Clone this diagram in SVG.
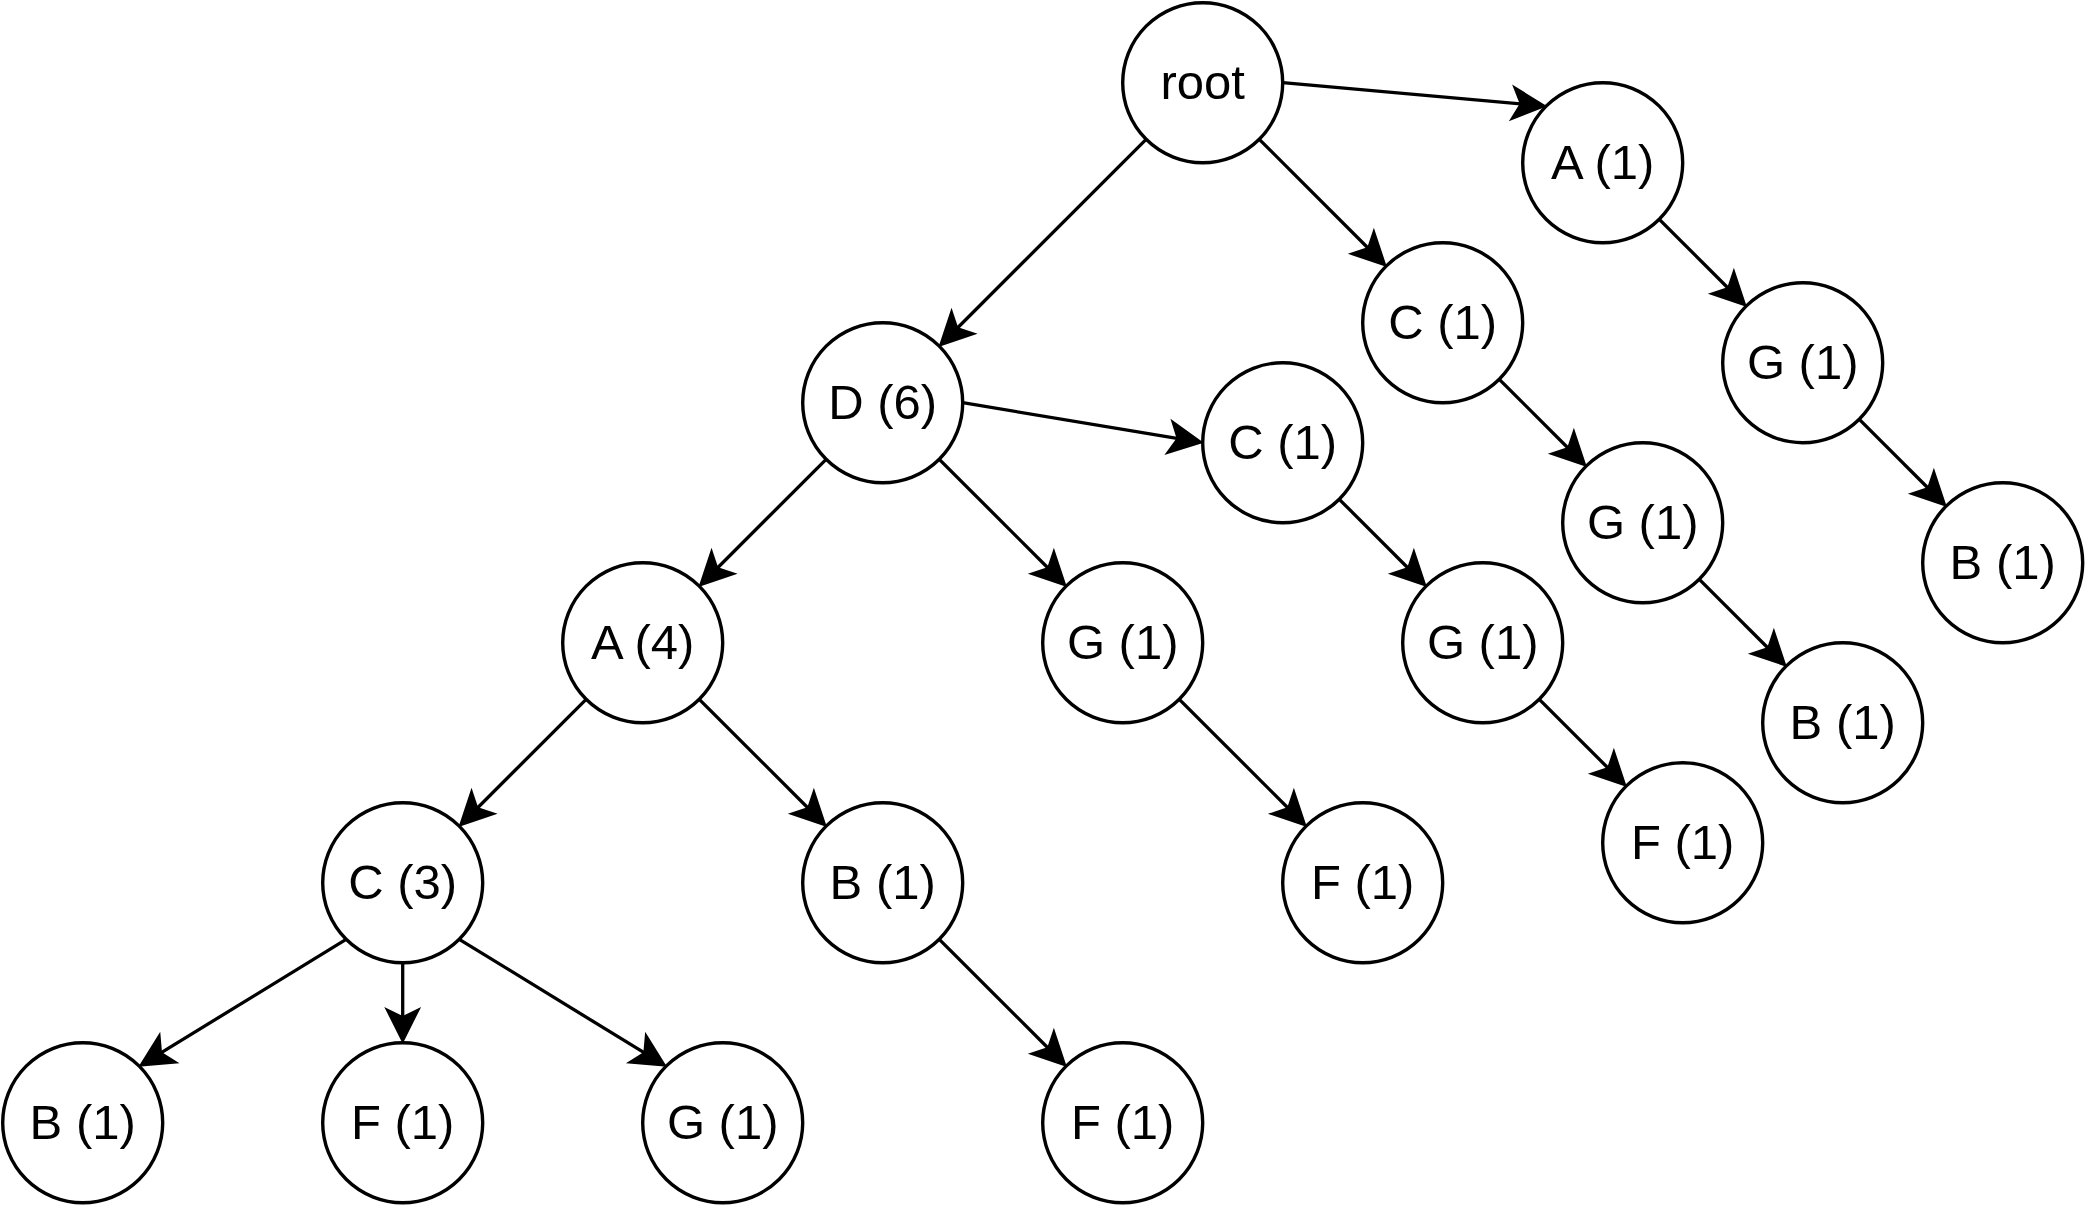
<svg xmlns="http://www.w3.org/2000/svg" width="2088" height="1208" viewBox="0 0 2088 1208">
<style>
.n circle{fill:#fff;stroke:#000;stroke-width:3.4}
.n text{font-family:"Liberation Sans",Arial,sans-serif;font-size:49px;fill:#000;text-anchor:middle}
.e line{stroke:#000;stroke-width:3.3;fill:none;marker-end:url(#arr)}
</style>
<defs>
<marker id="arr" markerUnits="userSpaceOnUse" markerWidth="40" markerHeight="40" viewBox="-16 -19 38 38" refX="0" refY="0" orient="auto">
<path d="M20,0 L-15,-17.5 L-6.25,0 L-15,17.5 Z" fill="#000"/>
</marker>
</defs>
<rect width="2088" height="1208" fill="#fff"/>
<g id="connectors" class="e">
<line x1="1146.1" y1="139.3" x2="953.4" y2="332.0"/>
<line x1="1259.3" y1="139.3" x2="1372.0" y2="252.0"/>
<line x1="1282.7" y1="82.7" x2="1526.2" y2="104.3"/>
<line x1="1659.3" y1="219.3" x2="1732.0" y2="292.0"/>
<line x1="1859.3" y1="419.3" x2="1932.0" y2="492.0"/>
<line x1="1499.3" y1="379.3" x2="1572.0" y2="452.0"/>
<line x1="1699.3" y1="579.3" x2="1772.0" y2="652.0"/>
<line x1="962.7" y1="402.7" x2="1183.0" y2="439.4"/>
<line x1="1339.3" y1="499.3" x2="1412.0" y2="572.0"/>
<line x1="1539.3" y1="699.3" x2="1612.0" y2="772.0"/>
<line x1="826.1" y1="459.3" x2="713.4" y2="572.0"/>
<line x1="939.3" y1="459.3" x2="1052.0" y2="572.0"/>
<line x1="1179.3" y1="699.3" x2="1292.0" y2="812.0"/>
<line x1="586.1" y1="699.3" x2="473.4" y2="812.0"/>
<line x1="699.3" y1="699.3" x2="812.0" y2="812.0"/>
<line x1="939.3" y1="939.3" x2="1052.0" y2="1052.0"/>
<line x1="346.1" y1="939.3" x2="156.4" y2="1055.7"/>
<line x1="402.7" y1="962.7" x2="402.7" y2="1022.7"/>
<line x1="459.3" y1="939.3" x2="649.0" y2="1055.7"/>
</g>
<g id="root" class="n"><circle cx="1202.7" cy="82.7" r="80"/><text x="1202.7" y="99">root</text></g>
<g id="A1" class="n"><circle cx="1602.7" cy="162.7" r="80"/><text x="1602.7" y="179">A (1)</text></g>
<g id="C1a" class="n"><circle cx="1442.7" cy="322.7" r="80"/><text x="1442.7" y="339">C (1)</text></g>
<g id="G1a" class="n"><circle cx="1802.7" cy="362.7" r="80"/><text x="1802.7" y="379">G (1)</text></g>
<g id="D6" class="n"><circle cx="882.7" cy="402.7" r="80"/><text x="882.7" y="419">D (6)</text></g>
<g id="C1b" class="n"><circle cx="1282.7" cy="442.7" r="80"/><text x="1282.7" y="459">C (1)</text></g>
<g id="G1b" class="n"><circle cx="1642.7" cy="522.7" r="80"/><text x="1642.7" y="539">G (1)</text></g>
<g id="B1a" class="n"><circle cx="2002.7" cy="562.7" r="80"/><text x="2002.7" y="579">B (1)</text></g>
<g id="A4" class="n"><circle cx="642.7" cy="642.7" r="80"/><text x="642.7" y="659">A (4)</text></g>
<g id="G1c" class="n"><circle cx="1122.7" cy="642.7" r="80"/><text x="1122.7" y="659">G (1)</text></g>
<g id="G1d" class="n"><circle cx="1482.7" cy="642.7" r="80"/><text x="1482.7" y="659">G (1)</text></g>
<g id="B1b" class="n"><circle cx="1842.7" cy="722.7" r="80"/><text x="1842.7" y="739">B (1)</text></g>
<g id="C3" class="n"><circle cx="402.7" cy="882.7" r="80"/><text x="402.7" y="899">C (3)</text></g>
<g id="B1c" class="n"><circle cx="882.7" cy="882.7" r="80"/><text x="882.7" y="899">B (1)</text></g>
<g id="F1a" class="n"><circle cx="1362.7" cy="882.7" r="80"/><text x="1362.7" y="899">F (1)</text></g>
<g id="F1b" class="n"><circle cx="1682.7" cy="842.7" r="80"/><text x="1682.7" y="859">F (1)</text></g>
<g id="B1d" class="n"><circle cx="82.7" cy="1122.7" r="80"/><text x="82.7" y="1139">B (1)</text></g>
<g id="F1c" class="n"><circle cx="402.7" cy="1122.7" r="80"/><text x="402.7" y="1139">F (1)</text></g>
<g id="G1e" class="n"><circle cx="722.7" cy="1122.7" r="80"/><text x="722.7" y="1139">G (1)</text></g>
<g id="F1d" class="n"><circle cx="1122.7" cy="1122.7" r="80"/><text x="1122.7" y="1139">F (1)</text></g>
</svg>
